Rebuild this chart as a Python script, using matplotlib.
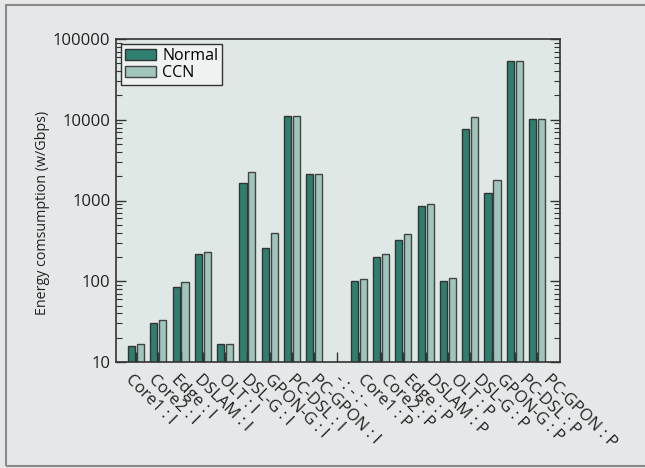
import matplotlib
matplotlib.use("Agg")
import matplotlib.pyplot as plt
from matplotlib.patches import Rectangle
import matplotlib.transforms as mtransforms
import numpy as np

plt.rcParams['font.family'] = ['Open Sans', 'DejaVu Sans']

categories = ["Core1 : I", "Core2 : I", "Edge : I", "DSLAM : I", "OLT : I",
              "DSL-G : I", "GPON-G : I", "PC-DSL : I", "PC-GPON : I",
              "- : - : -",
              "Core1 : P", "Core2 : P", "Edge : P", "DSLAM : P", "OLT : P",
              "DSL-G : P", "GPON-G : P", "PC-DSL : P", "PC-GPON : P"]
normal = [15.8, 30.7, 84, 219, 16.6, 1634, 256, 11130, 2147,
          np.nan,
          101.6, 198, 327, 855, 100.7, 7680, 1238, 53850, 10210]
ccn = [16.6, 33.4, 99, 230, 16.6, 2274, 396, 11130, 2147,
       np.nan,
       105.7, 219, 385, 905, 108.7, 10900, 1810, 53850, 10210]

fig_bg = "#e6e7e8"
ax_bg = "#dfe8e5"
c_normal = "#2e7f6f"
c_ccn = "#9fc5bd"
edge = "#333333"

fig = plt.figure(figsize=(6.45, 4.68), dpi=100, facecolor=fig_bg)
ax = fig.add_axes([116 / 645, 1 - 362 / 468, (560 - 116) / 645, (362 - 39) / 468])
ax.set_facecolor(ax_bg)

x = np.arange(len(categories))
w = 0.32
ax.bar(x - 0.2, normal, w, color=c_normal, edgecolor=edge, linewidth=1.0, label="Normal")
ax.bar(x + 0.2, ccn, w, color=c_ccn, edgecolor="#444444", linewidth=1.0, label="CCN")

ax.set_yscale("log")
ax.set_ylim(10, 100000)
ax.set_xlim(-0.9, 19.03)
ax.set_yticks([10, 100, 1000, 10000, 100000])
ax.set_yticklabels(["10", "100", "1000", "10000", "100000"])
ax.set_xticks(x)
ax.set_xticklabels([])
ax.tick_params(axis="y", which="major", direction="in", length=7, width=1,
               right=True, labelsize=12, labelcolor="#222222", color="#333333", pad=4)
ax.tick_params(axis="y", which="minor", direction="in", length=4, width=0.8,
               right=True, color="#333333")
ax.tick_params(axis="x", which="major", direction="in", length=7, width=1,
               color="#333333")
for s in ax.spines.values():
    s.set_color("#333333")
    s.set_linewidth(1.2)

# category labels, slanted, spread slightly wider than the bar pitch
label_tf = mtransforms.blended_transform_factory(ax.transData, ax.transAxes)
label_tf = label_tf + mtransforms.ScaledTranslation(0, -10 / 100, fig.dpi_scale_trans)
for i, name in enumerate(categories):
    ax.text(i * 1.042 - 0.13, 0, name, transform=label_tf, rotation=-45,
            ha="left", va="top", rotation_mode="anchor", fontsize=12,
            color="#222222", clip_on=False)

ax.set_ylabel("Energy comsumption (w/Gbps)", fontsize=10.3, color="#222222")
ax.yaxis.set_label_coords(-0.149, 0.461)

leg = ax.legend(loc="upper left", fontsize=11.5, frameon=True, fancybox=False,
                edgecolor="#333333", facecolor="#eef2f1", framealpha=1,
                handlelength=1.95, handleheight=0.7, borderpad=0.25,
                labelspacing=0.1, handletextpad=0.4, borderaxespad=0.3)
leg.get_frame().set_linewidth(1.0)

fig.patches.append(Rectangle((6 / 645, 2 / 468), 1.0, 1 - 7 / 468,
                             transform=fig.transFigure, fill=False,
                             edgecolor="#8a8a8a", linewidth=1.5))

fig.savefig("out.png", dpi=100, facecolor=fig_bg)
